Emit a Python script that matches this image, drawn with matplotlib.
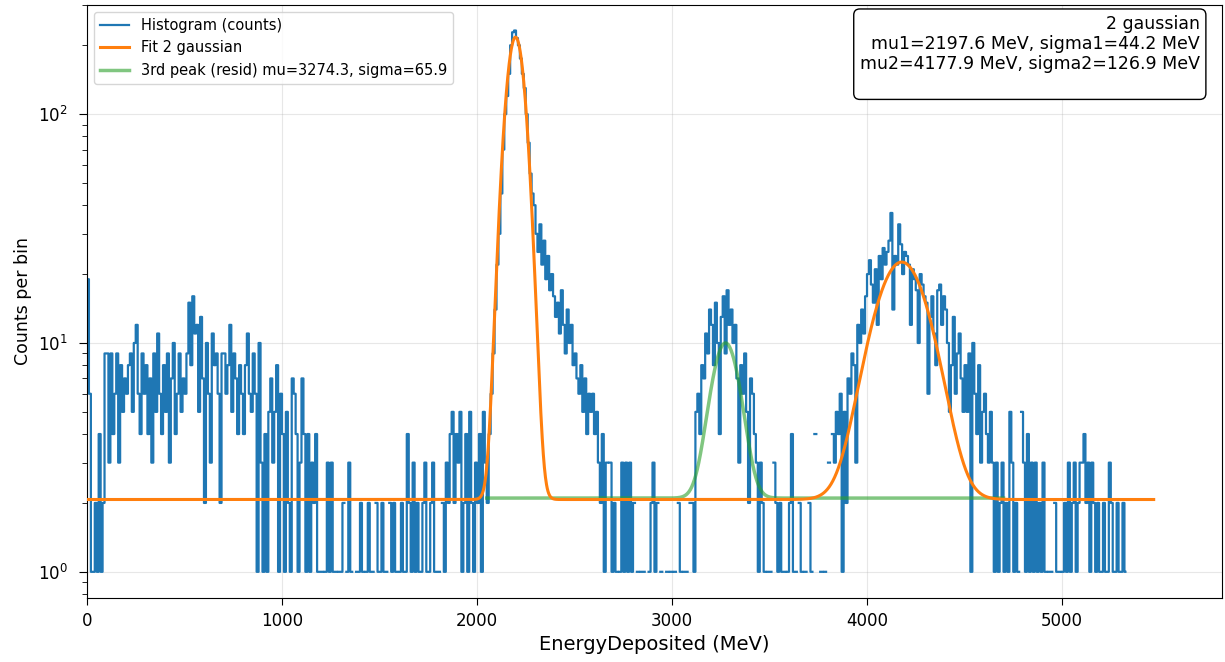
import numpy as np
import matplotlib
matplotlib.use("Agg")
import matplotlib.pyplot as plt

# histogram: 10 MeV bins starting at 0, counts (0 = empty bin)
bin_width = 10.0
counts = [
    19, 6, 1, 1, 2, 1, 4, 1, 2, 9,        # 0
    9, 3, 9, 4, 6, 9, 3, 8, 5, 7,         # 100
    6, 8, 9, 5, 10, 12, 6, 4, 9, 6,       # 200
    8, 4, 7, 3, 9, 5, 11, 6, 4, 8,        # 300
    5, 9, 3, 7, 10, 4, 6, 9, 5, 7,        # 400
    6, 9, 15, 8, 16, 11, 12, 5, 13, 7,    # 500
    2, 10, 6, 3, 11, 8, 9, 6, 2, 9,       # 600
    9, 6, 8, 12, 5, 9, 7, 4, 8, 6,        # 700
    4, 8, 11, 6, 5, 9, 6, 1, 10, 3,       # 800
    1, 4, 1, 5, 7, 3, 5, 8, 1, 6,         # 900
    4, 1, 5, 2, 1, 7, 6, 4, 1, 3,         # 1000
    7, 4, 1, 4, 1, 3, 2, 4, 1, 1,         # 1100
    1, 0, 1, 3, 1, 3, 1, 1, 0, 1,         # 1200
    1, 2, 0, 1, 3, 1, 0, 0, 1, 1,         # 1300
    2, 1, 0, 1, 2, 1, 1, 0, 2, 1,         # 1400
    1, 2, 1, 1, 0, 2, 1, 2, 1, 1,         # 1500
    1, 2, 1, 1, 4, 2, 1, 3, 1, 2,         # 1600
    1, 1, 2, 3, 1, 1, 2, 3, 1, 1,         # 1700
    1, 0, 2, 1, 3, 2, 4, 5, 2, 4,         # 1800
    3, 5, 1, 2, 4, 1, 5, 2, 1, 3,         # 1900
    2, 4, 1, 5, 3, 2, 4, 6, 9, 14,        # 2000
    22, 30, 45, 70, 100, 120, 150, 200, 228, 232,   # 2100
    215, 200, 175, 150, 130, 100, 75, 55, 45, 40,   # 2200
    30, 25, 33, 22, 28, 19, 24, 17, 20, 16,         # 2300
    13, 15, 11, 17, 12, 9, 14, 10, 12, 8,  # 2400
    9, 7, 6, 8, 5, 7, 4, 6, 5, 6,         # 2500
    4, 5, 3, 2, 4, 1, 3, 0, 3, 1,         # 2600
    2, 1, 0, 1, 3, 1, 3, 1, 3, 1,         # 2700
    2, 0, 1, 0, 1, 1, 0, 0, 1, 2,         # 2800
    3, 1, 2, 0, 1, 0, 0, 1, 0, 1,         # 2900
    0, 1, 0, 2, 1, 0, 1, 1, 0, 2,         # 3000
    2, 1, 5, 6, 4, 8, 7, 11, 9, 14,       # 3100
    12, 8, 15, 10, 4, 13, 16, 9, 17, 12,  # 3200
    14, 10, 12, 7, 3, 8, 6, 9, 5, 2,      # 3300
    7, 6, 4, 3, 1, 3, 2, 1, 0, 1,         # 3400
    1, 0, 3, 2, 1, 2, 1, 1, 0, 1,         # 3500
    2, 4, 1, 1, 0, 2, 1, 0, 1, 0,         # 3600
    2, 1, 0, 4, 0, 0, 1, 0, 1, 0,         # 3700
    3, 0, 4, 3, 5, 4, 6, 1, 5, 2,         # 3800
    7, 6, 9, 8, 3, 12, 10, 14, 11, 16,    # 3900
    20, 23, 18, 15, 21, 12, 24, 19, 26, 22,  # 4000
    25, 28, 37, 14, 24, 22, 33, 27, 20, 25,  # 4100
    24, 22, 12, 21, 19, 17, 10, 20, 18, 16,  # 4200
    15, 6, 13, 16, 11, 8, 17, 18, 12, 16,    # 4300
    14, 10, 5, 8, 13, 6, 9, 11, 7, 5,     # 4400
    8, 5, 9, 1, 10, 6, 4, 8, 3, 5,        # 4500
    6, 4, 3, 5, 3, 1, 3, 1, 2, 3,         # 4600
    1, 2, 1, 5, 3, 1, 2, 1, 0, 5,         # 4700
    3, 1, 4, 1, 3, 1, 3, 1, 2, 1,         # 4800
    3, 1, 0, 1, 1, 0, 2, 1, 1, 0,         # 4900
    1, 2, 1, 3, 1, 2, 3, 1, 2, 3,         # 5000
    3, 4, 2, 3, 1, 3, 2, 1, 2, 1,         # 5100
    1, 2, 1, 1, 3, 2, 1, 1, 2, 1,         # 5200
    1, 2, 1,                              # 5300
]

# fit parameters (from the annotation / legend)
const = 2.07
amp1, mu1, sigma1 = 215.0, 2197.6, 44.2
amp2, mu2, sigma2 = 20.5, 4177.9, 126.9
const3 = 2.1
amp3, mu3, sigma3 = 7.9, 3274.3, 65.9
fit_range = (0.0, 5470.0)
resid_range = (2050.0, 4700.0)


def gauss(x, a, mu, s):
    return a * np.exp(-0.5 * ((x - mu) / s) ** 2)


def main():
    c = np.array(counts, dtype=float)
    c[c <= 0] = np.nan
    centers = (np.arange(len(c)) + 0.5) * bin_width

    fig = plt.figure(figsize=(12.25, 6.62), dpi=100)
    ax = fig.add_axes([0.071, 0.097, 0.9265, 0.8955])

    ax.step(centers, c, where='mid', color='tab:blue', lw=1.6,
            label='Histogram (counts)', zorder=2)

    xf = np.linspace(fit_range[0], fit_range[1], 3000)
    yf = const + gauss(xf, amp1, mu1, sigma1) + gauss(xf, amp2, mu2, sigma2)
    ax.plot(xf, yf, color='tab:orange', lw=2.2, label='Fit 2 gaussian', zorder=4)

    xr = np.linspace(resid_range[0], resid_range[1], 2000)
    yr = const3 + gauss(xr, amp3, mu3, sigma3)
    ax.plot(xr, yr, color='tab:green', lw=2.5, alpha=0.6,
            label=f'3rd peak (resid) mu={mu3:.1f}, sigma={sigma3:.1f}', zorder=3)

    ax.set_yscale('log')
    ax.set_xlim(0, 5820)
    ax.set_ylim(0.77, 300)
    ax.grid(True, alpha=0.3)
    ax.tick_params(labelsize=12)
    ax.tick_params(axis='y', which='major', length=6, pad=8)
    ax.tick_params(axis='x', which='major', length=5, pad=5)
    ax.tick_params(which='minor', length=3.5)
    ax.set_xlabel('EnergyDeposited (MeV)', fontsize=14)
    ax.set_ylabel('Counts per bin', fontsize=12.5)
    ax.legend(loc='upper left', fontsize=10.5)

    txt = (f"2 gaussian\nmu1={mu1:.1f} MeV, sigma1={sigma1:.1f} MeV\n"
           f"mu2={mu2:.1f} MeV, sigma2={sigma2:.1f} MeV\n")
    ax.text(0.9805, 0.983, txt, transform=ax.transAxes, ha='right', va='top',
            fontsize=12.5, linespacing=1.15,
            bbox=dict(boxstyle='round,pad=0.35', fc='white', ec='black'))

    fig.savefig('out.png', dpi=100)


if __name__ == "__main__":
    main()
